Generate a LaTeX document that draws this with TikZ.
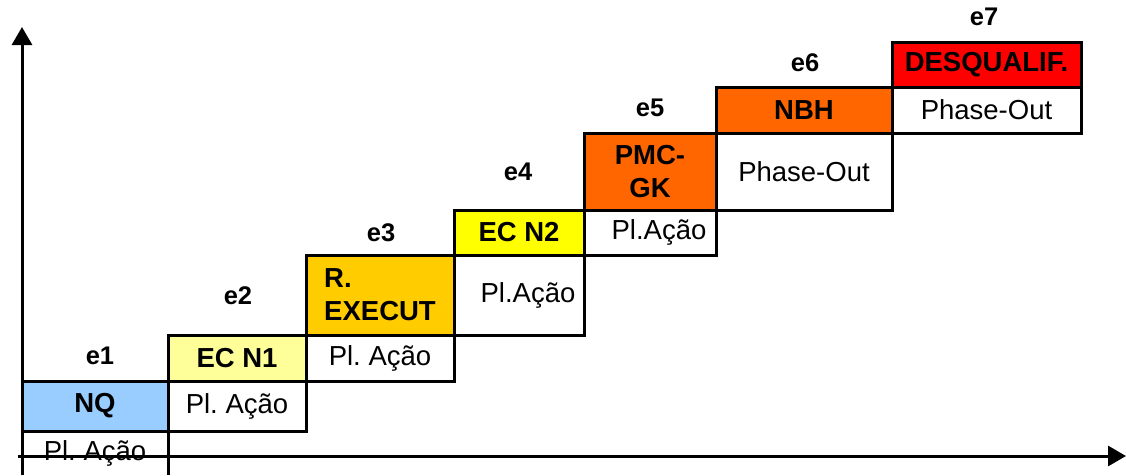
\documentclass[tikz,border=0pt]{standalone}
\usepackage{fontspec}
\setmainfont{Liberation Sans}
\frenchspacing
\usetikzlibrary{arrows.meta}
\definecolor{cNQ}{HTML}{99CCFF}
\definecolor{cECa}{HTML}{FFFF99}
\definecolor{cRE}{HTML}{FFCC00}
\definecolor{cECb}{HTML}{FFFF00}
\definecolor{cOr}{HTML}{FF6600}
\definecolor{cRed}{HTML}{FF0000}
\begin{document}
\begin{tikzpicture}[x=1pt,y=-1pt,
  cell/.style={draw=black, line width=3pt, anchor=north west, inner sep=0pt, outer sep=0pt,
    font=\frenchspacing\fontsize{27.5}{33}\selectfont, align=center, fill=white},
  topcell/.style={cell, font=\frenchspacing\bfseries\fontsize{27.5}{33}\selectfont},
  lab/.style={font=\bfseries\fontsize{25.5}{28}\selectfont, inner sep=0pt},
  plain/.style={font=\frenchspacing\fontsize{27.5}{33}\selectfont, inner sep=0pt},
  axisline/.style={line width=3pt, -{Triangle[width=20pt,length=18pt]}}]
\useasboundingbox (0,0) rectangle (1126,475);

% column 1
\node[topcell, fill=cNQ, minimum width=146pt, minimum height=50pt] (nq) at (22,381) {NQ};
\node[plain] (p1) at (95,453) {Pl. Ação};
\coordinate (p1r) at (168,475);
\draw[line width=3pt] (nq.south east) -- (p1r);

% column 2
\node[topcell, fill=cECa, minimum width=138pt, minimum height=46pt] (ec1) at (168,335) {EC N1};
\node[cell, minimum width=138pt, minimum height=50pt] (p2) at (168,381) {Pl. Ação};

% column 3
\node[topcell, fill=cRE, minimum width=148pt, minimum height=80pt, align=left] (re) at (306,255) {R.\\EXECUT};
\node[cell, minimum width=148pt, minimum height=46pt] (p3) at (306,335) {Pl. Ação};

% column 4
\node[topcell, fill=cECb, minimum width=130pt, minimum height=45pt] (ec2) at (454,210) {EC N2};
\node[cell, minimum width=130pt, minimum height=80pt] (p4) at (454,255) {\hspace*{18pt}Pl.Ação};

% column 5
\node[topcell, fill=cOr, minimum width=132pt, minimum height=77pt] (pmc) at (584,133) {PMC-\\GK};
\node[cell, minimum width=132pt, minimum height=45pt] (p5) at (584,210) {\hspace*{18pt}Pl.Ação};

% column 6
\node[topcell, fill=cOr, minimum width=176pt, minimum height=46pt] (nbh) at (716,87) {NBH};
\node[cell, minimum width=176pt, minimum height=77pt] (p6) at (716,133) {Phase-Out};

% column 7
\node[topcell, fill=cRed, minimum width=189pt, minimum height=45pt] (dq) at (892,42) {DESQUALIF.};
\node[cell, minimum width=189pt, minimum height=46pt] (p7) at (892,87) {Phase-Out};

% labels
\node[lab] (e1) at (100,356) {e1};
\node[lab] (e2) at (238,296) {e2};
\node[lab] (e3) at (381,233) {e3};
\node[lab] (e4) at (518,172) {e4};
\node[lab] (e5) at (650,108) {e5};
\node[lab] (e6) at (805,63) {e6};
\node[lab] (e7) at (984,17) {e7};

% axes
\coordinate (ybot) at (22,475);
\coordinate (ytop) at (22,27);
\coordinate (xleft) at (18,456);
\coordinate (xright) at (1126,456);
\draw[axisline] (ybot) -- (ytop);
\draw[axisline] (xleft) -- (xright);
\end{tikzpicture}
\end{document}
